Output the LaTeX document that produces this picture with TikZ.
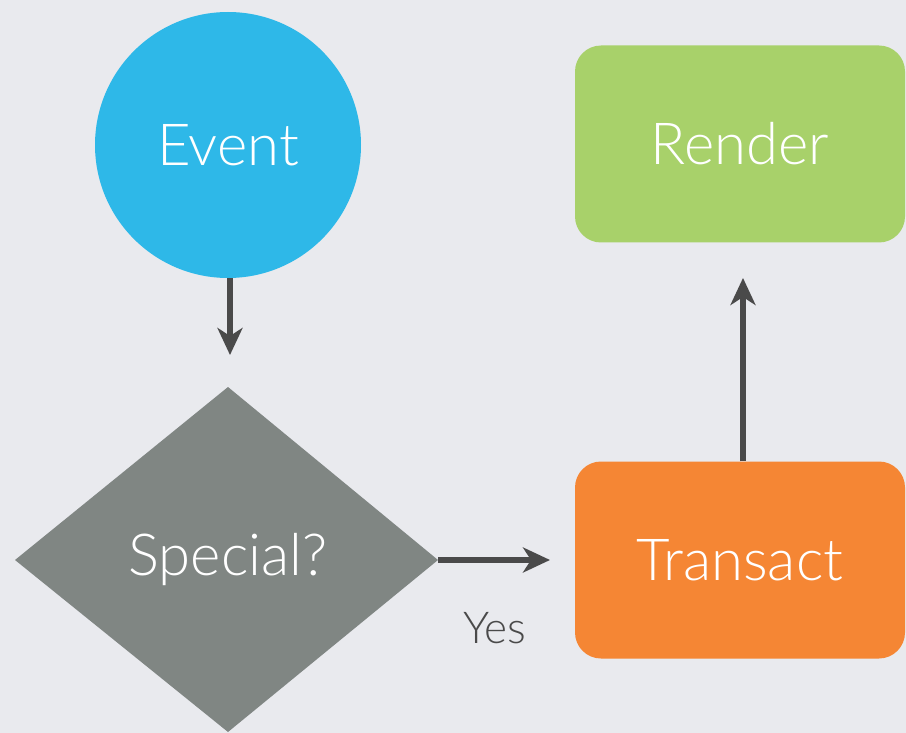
\documentclass[tikz,border=0pt]{standalone}
\usepackage{fontspec}
\setmainfont{Lato}[UprightFont=* Light]
\usetikzlibrary{arrows.meta}
\definecolor{bg}{HTML}{E9EAEE}
\definecolor{evblue}{HTML}{2EB8E8}
\definecolor{rgreen}{HTML}{A8D16A}
\definecolor{torange}{HTML}{F58634}
\definecolor{dgray}{HTML}{808683}
\definecolor{arr}{HTML}{4A4A4A}
\tikzset{
  lbl/.style={text=white,font=\fontsize{58}{60}\selectfont},
  boxnode/.style={rounded corners=26pt,minimum width=330pt,minimum height=197pt,inner sep=0pt},
  conn/.style={draw=arr,line width=6pt,-{Stealth[length=27pt,width=25pt,inset=8pt]}}
}
\begin{document}
\begin{tikzpicture}[x=1pt,y=-1pt]
\fill[bg] (0,0) rectangle (906,733);
\useasboundingbox (0,0) rectangle (906,733);
\fill[evblue] (228,145) circle (133);
\node[lbl] (event) at (228,145) {Event};
\coordinate (eventb) at (230,278);
\fill[dgray] (228,387) -- (438,560) -- (228,732) -- (15,560) -- cycle;
\node[lbl] (special) at (228,560) {Special?};
\coordinate (specialr) at (438,560);
\node[boxnode,fill=rgreen,lbl] (render) at (740,144) {Render};
\node[boxnode,fill=torange,lbl] (transact) at (740,560) {Transact};
\coordinate (arrdown) at (230,355);
\coordinate (arrright) at (550,560);
\coordinate (arrup) at (743,278);
\draw[conn] (eventb) -- (arrdown);
\draw[conn] (specialr) -- (arrright);
\draw[conn] (transact.north -| arrup) -- (arrup);
\node[text=arr,font=\fontsize{44}{46}\selectfont] (yes) at (495,628) {Yes};
\end{tikzpicture}
\end{document}
